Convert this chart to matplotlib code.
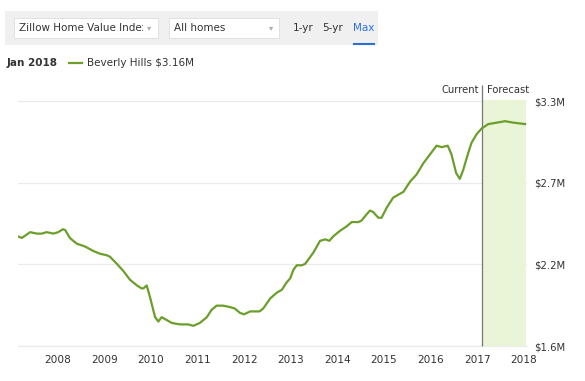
import matplotlib
matplotlib.use("Agg")
import matplotlib.pyplot as plt
from matplotlib.patches import Rectangle
from matplotlib.lines import Line2D

# ---------------- data ----------------
dates = [2007.15, 2007.23, 2007.41, 2007.55, 2007.66, 2007.76, 2007.91, 2008.01, 2008.11, 2008.16,
         2008.26, 2008.41, 2008.59, 2008.76, 2008.91, 2009.05, 2009.12, 2009.27, 2009.41, 2009.55,
         2009.70, 2009.80, 2009.84, 2009.91, 2009.98, 2010.09, 2010.16, 2010.23, 2010.34, 2010.45,
         2010.62, 2010.80, 2010.91, 2011.05, 2011.20, 2011.30, 2011.41, 2011.55, 2011.70, 2011.80,
         2011.91, 2012.00, 2012.13, 2012.23, 2012.33, 2012.41, 2012.56, 2012.70, 2012.81, 2012.91,
         2012.99, 2013.06, 2013.13, 2013.24, 2013.31, 2013.49, 2013.63, 2013.74, 2013.83, 2013.91,
         2014.06, 2014.20, 2014.31, 2014.45, 2014.52, 2014.62, 2014.70, 2014.77, 2014.88, 2014.95,
         2015.06, 2015.20, 2015.31, 2015.42, 2015.56, 2015.70, 2015.85, 2015.99, 2016.13, 2016.24,
         2016.37, 2016.45, 2016.55, 2016.63, 2016.70, 2016.81, 2016.88, 2016.99, 2017.10, 2017.24,
         2017.42, 2017.60, 2017.78, 2018.03]
values = [2.36, 2.35, 2.39, 2.38, 2.38, 2.39, 2.38, 2.39, 2.41, 2.405,
          2.35, 2.31, 2.29, 2.26, 2.24, 2.23, 2.22, 2.17, 2.12, 2.06,
          2.02, 2.00, 2.00, 2.02, 1.94, 1.80, 1.77, 1.80, 1.78, 1.76,
          1.75, 1.75, 1.74, 1.76, 1.80, 1.85, 1.88, 1.88, 1.87, 1.86,
          1.83, 1.82, 1.84, 1.84, 1.84, 1.86, 1.93, 1.97, 1.99, 2.04,
          2.07, 2.13, 2.16, 2.16, 2.17, 2.25, 2.33, 2.34, 2.33, 2.36,
          2.40, 2.43, 2.46, 2.46, 2.47, 2.51, 2.54, 2.53, 2.49, 2.49,
          2.56, 2.63, 2.65, 2.67, 2.74, 2.79, 2.87, 2.93, 2.99, 2.98,
          2.99, 2.93, 2.80, 2.76, 2.82, 2.94, 3.01, 3.07, 3.11, 3.14,
          3.15, 3.16, 3.15, 3.14]

year_ticks = [2008, 2009, 2010, 2011, 2012, 2013, 2014, 2015, 2016, 2017, 2018]
year_labels = [str(y) for y in year_ticks]
value_ticks = [1.6, 2.1667, 2.7333, 3.3]
value_labels = ["$1.6M", "$2.2M", "$2.7M", "$3.3M"]
current_date = 2017.10
forecast_end = 2018.04

# ---------------- figure ----------------
W, H = 585, 381
fig = plt.figure(figsize=(W / 100, H / 100), dpi=100)
fig.patch.set_facecolor("white")

def fx(x):
    return x / W

def fy(y):
    return 1 - y / H

ax_left, ax_right, ax_top, ax_bottom = 18, 527, 100, 346
ax = fig.add_axes([fx(ax_left), fy(ax_bottom), (ax_right - ax_left) / W, (ax_bottom - ax_top) / H])
ax.set_xlim(2007.148, 2018.071)
ax.set_ylim(1.6, 1.6 + (ax_bottom - ax_top) / 144.1)

for s in ax.spines.values():
    s.set_visible(False)

ax.set_axisbelow(True)
ax.grid(axis="y", color="#ebebeb", linewidth=0.9)
ax.grid(axis="x", visible=False)
ax.axhline(value_ticks[0], color="#ebebeb", linewidth=0.9, zorder=0.5, clip_on=False)

ax.axvspan(current_date, forecast_end, color="#eaf5d8", zorder=1, linewidth=0)
ax.vlines(current_date, 1.6, 1.6 + (ax_bottom - 85) / 144.1, color="#777777",
          linewidth=0.9, zorder=2, clip_on=False)

ax.plot(dates, values, color="#6b9e2a", linewidth=1.6, zorder=3, solid_joinstyle="round")

ax.set_xticks(year_ticks)
ax.set_xticklabels(year_labels, fontsize=7.6, color="#333333")
ax.tick_params(axis="x", length=0, pad=6.5)
ax.yaxis.tick_right()
ax.set_yticks(value_ticks)
ax.set_yticklabels(value_labels, fontsize=7.2, color="#333333")
ax.tick_params(axis="y", length=0, pad=5)

# Current / Forecast labels
fig.text(fx(479), fy(90), "Current", ha="right", va="center", fontsize=7.2, color="#333333")
fig.text(fx(487), fy(90), "Forecast", ha="left", va="center", fontsize=7.2, color="#333333")

# ---------------- top controls ----------------
band = Rectangle((fx(5), fy(45)), fx(378) - fx(5), fy(11) - fy(45), transform=fig.transFigure,
                 facecolor="#f0f0f0", edgecolor="none")
fig.add_artist(band)

box1 = Rectangle((fx(14), fy(38)), fx(158) - fx(14), fy(18) - fy(38), transform=fig.transFigure,
                 facecolor="white", edgecolor="#dddddd", linewidth=0.6)
fig.add_artist(box1)
t1 = fig.text(fx(19), fy(28), "Zillow Home Value Index", ha="left", va="center",
              fontsize=7.5, color="#333333")
clip1 = Rectangle((fx(14), fy(38)), fx(143) - fx(14), fy(18) - fy(38), transform=fig.transFigure,
                  facecolor="none", edgecolor="none")
fig.add_artist(clip1)
t1.set_clip_path(clip1)
fig.text(fx(149), fy(28), "▾", ha="center", va="center", fontsize=6, color="#aaaaaa")

box2 = Rectangle((fx(169), fy(38)), fx(279) - fx(169), fy(18) - fy(38), transform=fig.transFigure,
                 facecolor="white", edgecolor="#dddddd", linewidth=0.6)
fig.add_artist(box2)
fig.text(fx(174), fy(28), "All homes", ha="left", va="center", fontsize=7.5, color="#333333")
fig.text(fx(271), fy(28), "▾", ha="center", va="center", fontsize=6, color="#aaaaaa")

fig.text(fx(303), fy(28), "1-yr", ha="center", va="center", fontsize=7.5, color="#333333")
fig.text(fx(333), fy(28), "5-yr", ha="center", va="center", fontsize=7.5, color="#333333")
fig.text(fx(364), fy(28), "Max", ha="center", va="center", fontsize=7.5, color="#2a6fd6")
fig.add_artist(Line2D([fx(354), fx(374)], [fy(44), fy(44)], transform=fig.transFigure,
                      color="#2a6fd6", linewidth=1.5))

# legend row
fig.text(fx(7), fy(63), "Jan 2018", ha="left", va="center", fontsize=7.5,
         fontweight="bold", color="#333333")
fig.add_artist(Line2D([fx(69), fx(82)], [fy(63), fy(63)], transform=fig.transFigure,
                      color="#6b9e2a", linewidth=1.6))
fig.text(fx(87), fy(63), "Beverly Hills $3.16M", ha="left", va="center", fontsize=7.5,
         color="#333333")

fig.savefig("out.png", dpi=100, facecolor="white")
